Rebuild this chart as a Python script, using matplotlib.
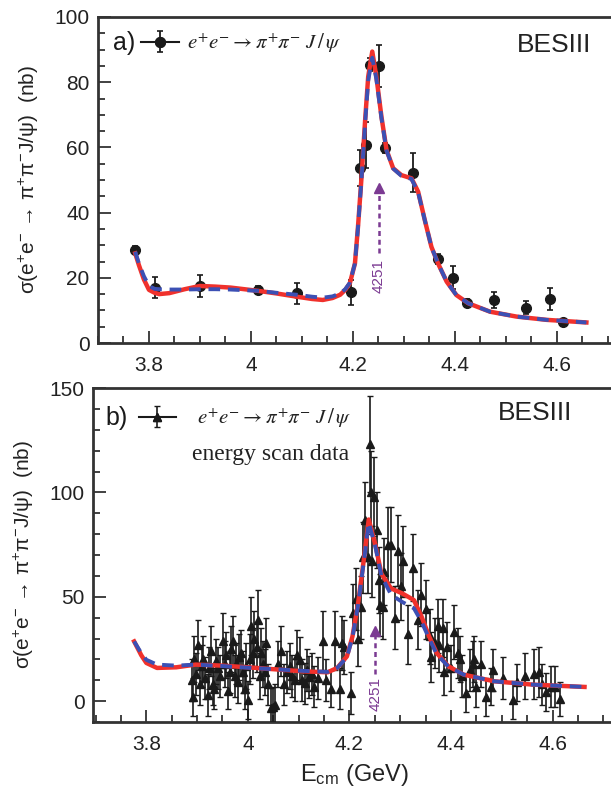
import numpy as np
import matplotlib
matplotlib.use('Agg')
import matplotlib.pyplot as plt
from matplotlib.ticker import MultipleLocator
from matplotlib.lines import Line2D
from matplotlib.legend_handler import HandlerTuple

plt.rcParams['font.family'] = ['Liberation Sans', 'DejaVu Sans']
plt.rcParams['mathtext.fontset'] = 'custom'
plt.rcParams['mathtext.rm'] = 'Liberation Sans'
plt.rcParams['mathtext.it'] = 'Liberation Sans:italic'
plt.rcParams['mathtext.sf'] = 'Liberation Sans'

# ---- panel a) : points (E in GeV, sigma in nb, error) ----
a_x = [3.773, 3.811, 3.900, 4.014, 4.091, 4.197, 4.214, 4.226, 4.233, 4.251,
       4.263, 4.317, 4.367, 4.397, 4.424, 4.477, 4.539, 4.586, 4.612]
a_y = [28.5, 17.0, 17.5, 16.3, 15.2, 15.6, 53.6, 60.7, 85.3, 85.0,
       59.7, 52.2, 25.7, 20.0, 12.2, 13.2, 10.8, 13.5, 6.3]
a_err = [1.2, 3.3, 3.5, 1.2, 3.3, 3.8, 5.5, 7.0, 2.0, 6.5,
         1.5, 6.0, 1.5, 3.5, 1.2, 2.5, 2.0, 3.5, 1.0]

# fit curves read off panel a)
fa_x = [3.773, 3.78, 3.79, 3.80, 3.811, 3.82, 3.84, 3.87, 3.90, 3.93,
        3.96, 4.014, 4.05, 4.09, 4.12, 4.141, 4.16, 4.175, 4.185, 4.194,
        4.204, 4.210, 4.217, 4.224, 4.230, 4.238, 4.246, 4.256, 4.266, 4.279,
        4.295, 4.315, 4.328, 4.341, 4.354, 4.367, 4.384, 4.403, 4.426, 4.469,
        4.521, 4.580, 4.658]
fa_red = [27.5, 24.0, 19.5, 16.3, 15.4, 15.0, 15.3, 16.5, 17.5, 17.3,
          17.0, 16.0, 15.2, 14.2, 13.5, 13.2, 13.8, 14.8, 16.3, 18.3,
          24.4, 35.7, 51.0, 68.4, 81.7, 89.4, 81.7, 69.4, 59.2, 53.6,
          51.5, 50.5, 46.4, 37.7, 29.5, 24.4, 18.8, 14.7, 12.2, 9.6,
          8.1, 7.1, 6.3]
fa_blue = [28.0, 24.5, 20.5, 17.5, 16.6, 16.5, 16.4, 16.4, 16.5, 16.5,
           16.4, 16.0, 15.4, 14.8, 14.2, 13.9, 14.3, 15.2, 16.5, 18.5,
           24.4, 35.5, 50.5, 67.5, 80.5, 87.5, 81.0, 69.0, 59.0, 53.5,
           51.3, 50.3, 46.2, 37.7, 29.5, 24.4, 18.8, 14.7, 12.2, 9.6,
           8.1, 7.1, 6.3]

# ---- panel b) : energy scan data ----
b_x = [3.889, 3.891, 3.893, 3.897, 3.902, 3.905, 3.909, 3.911, 3.916, 3.921,
       3.924, 3.928, 3.932, 3.934, 3.938, 3.941, 3.946, 3.951, 3.954, 3.957,
       3.961, 3.964, 3.967, 3.970, 3.974, 3.977, 3.980, 3.983, 3.987, 3.991,
       3.994, 3.997, 4.000, 4.004, 4.007, 4.010, 4.013, 4.017, 4.020, 4.023,
       4.026, 4.030, 4.033, 4.036, 4.039, 4.046, 4.050, 4.053, 4.060, 4.066,
       4.072, 4.077, 4.082, 4.087, 4.092, 4.097, 4.102, 4.107, 4.112, 4.117,
       4.121, 4.126, 4.131, 4.138, 4.148, 4.154, 4.163, 4.171, 4.181, 4.186,
       4.190, 4.204, 4.208, 4.212, 4.217, 4.222, 4.226, 4.230, 4.236, 4.240,
       4.243, 4.245, 4.249, 4.254, 4.258, 4.261, 4.266, 4.269, 4.276, 4.282,
       4.289, 4.295, 4.302, 4.305, 4.315, 4.325, 4.335, 4.341, 4.350, 4.358,
       4.361, 4.368, 4.374, 4.377, 4.384, 4.387, 4.392, 4.400, 4.406, 4.413,
       4.417, 4.422, 4.430, 4.437, 4.443, 4.446, 4.450, 4.459, 4.469, 4.479,
       4.482, 4.502, 4.522, 4.530, 4.545, 4.564, 4.574, 4.580, 4.587, 4.597,
       4.604, 4.614]
b_y = [10, 2, 20, 13, 27, 8, 17, 20, 11, 3,
       16, 24, 8, 6, 19, 16, 12, 29, 18, 22,
       5, 14, 25, 29, 12, 18, 9, 21, 23, 14,
       6, 17, 0.5, 20, 36, 23, 30, 26, 39, 12,
       23, 18, 14, 28, 8, -3.5, -3, -2, 18, 24,
       8, 14, 17, 12, 10, 22, 19.6, 10, 8.5, 15,
       11.6, 13, 7, 11, 29, 10, 6, 29, 6, 28,
       26, 3.8, 42, 49, 30, 45, 69, 87, 69, 123,
       100, 67, 98, 82, 58, 46, 45, 62, 75, 75,
       40, 72, 55, 67, 32, 64, 39, 51, 44, 31,
       21, 28, 36, 27, 35, 14, 26, 16, 33, 23,
       20, 12, 4, 15, 18, 20, 7, 18, 2, 7,
       15, 11, 0.5, 9, 12, 13, 14, 8, 4.5, 7,
       7, 1]
b_err = [10, 9, 11, 10, 12, 10, 10, 11, 10, 10,
         10, 12, 10, 10, 11, 10, 10, 13, 11, 11,
         9, 10, 11, 12, 10, 10, 10, 11, 11, 10,
         10, 11, 9, 12, 14, 12, 13, 12, 14, 11,
         12, 11, 11, 12, 10, 10, 10, 10, 11, 12,
         10, 10, 11, 10, 10, 12, 11, 10, 10, 10,
         10, 10, 10, 10, 14, 10, 9, 14, 10, 13,
         13, 10, 14, 15, 13, 15, 17, 18, 17, 23,
         20, 17, 19, 18, 16, 15, 15, 16, 18, 18,
         15, 17, 16, 17, 14, 16, 14, 15, 14, 13,
         12, 12, 13, 13, 14, 11, 12, 11, 13, 12,
         11, 10, 9, 10, 11, 11, 10, 11, 9, 9,
         10, 10, 9, 9, 11, 12, 12, 10, 9, 10,
         10, 8]

# fit curves read off panel b)
fb_x = [3.776, 3.79, 3.80, 3.821, 3.859, 3.897, 3.95, 4.0, 4.05, 4.108,
        4.157, 4.176, 4.195, 4.206, 4.217, 4.229, 4.238, 4.251, 4.263, 4.282,
        4.304, 4.327, 4.342, 4.357, 4.372, 4.395, 4.425, 4.485, 4.561, 4.663]
fb_red = [28.6, 22.0, 18.3, 15.9, 16.2, 17.5, 17.0, 16.2, 15.3, 14.3,
          13.8, 15.9, 21.4, 31.0, 46.8, 69.0, 87.0, 75.0, 61.0, 54.0,
          51.6, 48.4, 40.5, 31.0, 23.0, 16.7, 12.7, 9.5, 7.9, 6.8]
fb_blue = [28.6, 23.0, 19.8, 17.5, 17.0, 17.5, 16.8, 16.0, 15.3, 14.5,
           14.0, 15.9, 21.0, 30.5, 46.0, 68.0, 85.5, 74.0, 60.0, 51.0,
           47.5, 44.5, 38.0, 30.0, 22.5, 16.5, 12.7, 9.5, 7.9, 6.8]

xticks = [3.8, 4.0, 4.2, 4.4, 4.6]
xtick_labels = ['3.8', '4', '4.2', '4.4', '4.6']

red = '#f0312c'
blue = '#3c50b4'
purple = '#7b3a92'
ink = '#1a1a1a'
ylab = r'σ(e$^{+}$e$^{-}$ → π$^{+}$π$^{-}$J/ψ)  (nb)'
reac = r'$e^{+}e^{-} \rightarrow \pi^{+}\pi^{-}\ J\,/\,\psi$'

fig = plt.figure(figsize=(6.11, 7.87), dpi=100)
ax1 = fig.add_axes([98 / 611, 444 / 787, 520 / 611, 326 / 787])
ax2 = fig.add_axes([93 / 611, 65 / 787, 523 / 611, 334 / 787])


def style(ax, ymaj, ymin):
    for s in ax.spines.values():
        s.set_linewidth(2.0)
        s.set_color('#333333')
    ax.spines['right'].set_visible(False)
    ax.set_xticks(xticks, labels=xtick_labels)
    ax.xaxis.set_minor_locator(MultipleLocator(0.05))
    ax.yaxis.set_major_locator(MultipleLocator(ymaj))
    ax.yaxis.set_minor_locator(MultipleLocator(ymin))
    ax.tick_params(which='both', direction='in', top=False, right=False,
                   colors='#333333', width=1.3, labelsize=15, labelcolor='#222222')
    ax.tick_params(which='major', length=9)
    ax.tick_params(which='minor', length=5)
    ax.tick_params(axis='x', pad=9)
    ax.tick_params(axis='y', pad=6)


# panel a
style(ax1, 20, 5)
ax1.set_xlim(3.7, 4.72)
ax1.set_ylim(0, 100)
eb1 = ax1.errorbar(a_x, a_y, yerr=a_err, fmt='o', color=ink, ms=7,
                   elinewidth=1.3, capsize=2, capthick=1.2, zorder=3)
ax1.plot(fa_x, fa_red, '-', color=red, lw=3.2, zorder=4)
ax1.plot(fa_x, fa_blue, '--', color=blue, lw=2.8, dashes=(3, 2), zorder=5)
ax1.plot([4.251, 4.251], [27.5, 46], '--', color=purple, lw=1.8, dashes=(2, 1.5), zorder=6)
ax1.plot([4.251], [47.5], '^', color=purple, ms=7, zorder=6)
ax1.text(4.251, 20.5, '4251', rotation=90, ha='center', va='center',
         fontsize=11, color=purple, zorder=6)
ax1.set_ylabel(ylab, fontsize=15, color='#222222', labelpad=10)
ax1.text(0.029, 0.92, 'a)', transform=ax1.transAxes, ha='left', va='center',
         fontsize=18, color=ink)
ax1.text(4.522, 91.4, 'BESIII', ha='left', va='center',
         fontsize=19, color='#222222')
h1 = Line2D([], [], color=ink, lw=1.5, marker='o', ms=7)
leg1 = ax1.legend([(h1, eb1)], [reac], handler_map={tuple: HandlerTuple(ndivide=1)},
                  loc='center left', bbox_to_anchor=(0.083, 0.92), frameon=False,
                  borderpad=0, borderaxespad=0, handlelength=1.8, handletextpad=0.4,
                  fontsize=15)
for t in leg1.get_texts():
    t.set_math_fontfamily('stix')
    t.set_color('#222222')

# panel b
style(ax2, 50, 10)
ax2.set_xlim(3.695, 4.725)
ax2.set_ylim(-10, 150)
eb2 = ax2.errorbar(b_x, b_y, yerr=b_err, fmt='^', color=ink, ms=6,
                   elinewidth=1.2, capsize=2, capthick=1.0, zorder=3)
ax2.plot(fb_x, fb_red, '-', color=red, lw=3.2, zorder=4)
ax2.plot(fb_x, fb_blue, '--', color=blue, lw=2.8, dashes=(3, 2), zorder=5)
ax2.plot([4.251, 4.251], [13, 32], '--', color=purple, lw=1.8, dashes=(2, 1.5), zorder=6)
ax2.plot([4.251], [33.5], '^', color=purple, ms=7, zorder=6)
ax2.text(4.251, 3.5, '4251', rotation=90, ha='center', va='center',
         fontsize=11, color=purple, zorder=6)
ax2.set_ylabel(ylab, fontsize=15, color='#222222', labelpad=10)
ax2.set_xlabel(r'E$_{\rm cm}$ (GeV)', fontsize=17, color='#222222', labelpad=6)
ax2.text(0.024, 0.91, 'b)', transform=ax2.transAxes, ha='left', va='center',
         fontsize=18, color=ink)
ax2.text(4.492, 138, 'BESIII', ha='left', va='center',
         fontsize=19, color='#222222')
ax2.text(4.045, 118, 'energy scan data', ha='center', va='center', fontsize=17,
         family='Liberation Serif', color='#222222')
h2 = Line2D([], [], color=ink, lw=1.5, marker='^', ms=6)
leg2 = ax2.legend([(h2, eb2)], [reac], handler_map={tuple: HandlerTuple(ndivide=1)},
                  loc='center left', bbox_to_anchor=(0.087, 0.91), frameon=False,
                  borderpad=0, borderaxespad=0, handlelength=1.8, handletextpad=1.0,
                  fontsize=15)
for t in leg2.get_texts():
    t.set_math_fontfamily('stix')
    t.set_color('#222222')

fig.savefig('out.png', dpi=100)
